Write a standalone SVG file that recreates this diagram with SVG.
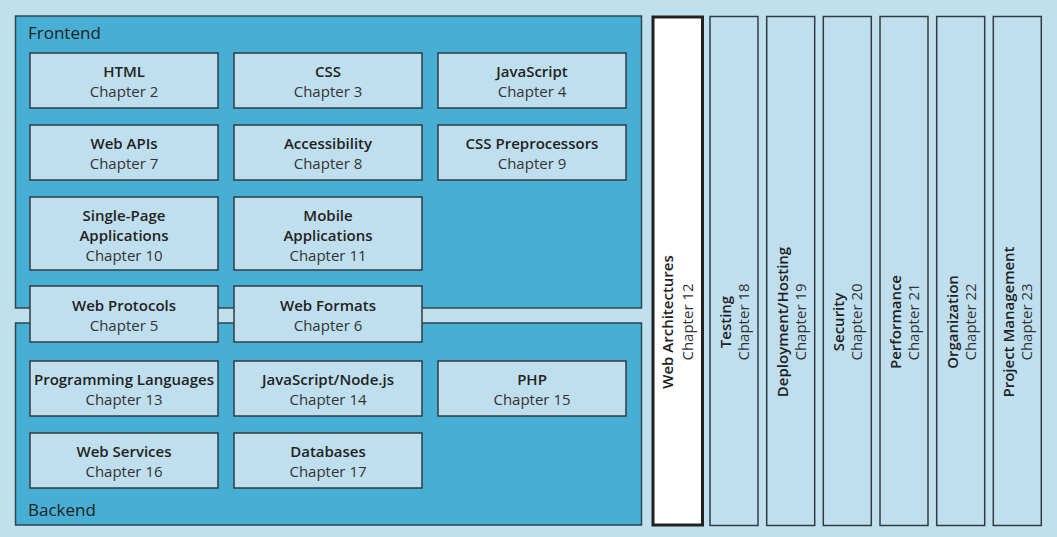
<svg xmlns="http://www.w3.org/2000/svg" width="1057" height="537" viewBox="0 0 1057 537">
<style>
.panel{fill:#47aed4;stroke:#2f4550;stroke-width:1.5}
.box{fill:#bfdfef;stroke:#333b40;stroke-width:1.5}
.col{fill:#bfdfef;stroke:#333b40;stroke-width:1.5}
.t{font-family:"Open Sans","Noto Sans",sans-serif;font-size:15px;font-weight:600;fill:#222;text-anchor:middle}
.c{font-family:"Open Sans","Noto Sans",sans-serif;font-size:15px;fill:#333;text-anchor:middle}
.h{font-family:"Open Sans","Noto Sans",sans-serif;font-size:17px;fill:#222}
</style>
<rect x="0" y="0" width="1057" height="537" fill="#c0e0ee"/>
<g id="frontend"><rect class="panel" x="15.5" y="16" width="626" height="292"/><text class="h" x="28" y="39">Frontend</text></g>
<g id="backend"><rect class="panel" x="15.5" y="323" width="626" height="202"/><text class="h" x="28" y="516">Backend</text></g>
<g id="connectors"></g>
<g id="html"><rect class="box" x="30" y="53" width="188" height="55"/><text class="t" x="124" y="77">HTML</text><text class="c" x="124" y="97">Chapter 2</text></g>
<g id="css"><rect class="box" x="234" y="53" width="188" height="55"/><text class="t" x="328" y="77">CSS</text><text class="c" x="328" y="97">Chapter 3</text></g>
<g id="javascript"><rect class="box" x="438" y="53" width="188" height="55"/><text class="t" x="532" y="77">JavaScript</text><text class="c" x="532" y="97">Chapter 4</text></g>
<g id="webapis"><rect class="box" x="30" y="125" width="188" height="55"/><text class="t" x="124" y="149">Web APIs</text><text class="c" x="124" y="169">Chapter 7</text></g>
<g id="accessibility"><rect class="box" x="234" y="125" width="188" height="55"/><text class="t" x="328" y="149">Accessibility</text><text class="c" x="328" y="169">Chapter 8</text></g>
<g id="csspre"><rect class="box" x="438" y="125" width="188" height="55"/><text class="t" x="532" y="149">CSS Preprocessors</text><text class="c" x="532" y="169">Chapter 9</text></g>
<g id="spa"><rect class="box" x="30" y="197" width="188" height="73"/><text class="t" x="124" y="221">Single-Page</text><text class="t" x="124" y="241">Applications</text><text class="c" x="124" y="261">Chapter 10</text></g>
<g id="mobile"><rect class="box" x="234" y="197" width="188" height="73"/><text class="t" x="328" y="221">Mobile</text><text class="t" x="328" y="241">Applications</text><text class="c" x="328" y="261">Chapter 11</text></g>
<g id="webprotocols"><rect class="box" x="30" y="286" width="188" height="56"/><text class="t" x="124" y="311">Web Protocols</text><text class="c" x="124" y="331">Chapter 5</text></g>
<g id="webformats"><rect class="box" x="234" y="286" width="188" height="56"/><text class="t" x="328" y="311">Web Formats</text><text class="c" x="328" y="331">Chapter 6</text></g>
<g id="proglang"><rect class="box" x="30" y="361" width="188" height="55"/><text class="t" x="124" y="385">Programming Languages</text><text class="c" x="124" y="405">Chapter 13</text></g>
<g id="nodejs"><rect class="box" x="234" y="361" width="188" height="55"/><text class="t" x="328" y="385">JavaScript/Node.js</text><text class="c" x="328" y="405">Chapter 14</text></g>
<g id="php"><rect class="box" x="438" y="361" width="188" height="55"/><text class="t" x="532" y="385">PHP</text><text class="c" x="532" y="405">Chapter 15</text></g>
<g id="webservices"><rect class="box" x="30" y="433" width="188" height="55"/><text class="t" x="124" y="457">Web Services</text><text class="c" x="124" y="477">Chapter 16</text></g>
<g id="databases"><rect class="box" x="234" y="433" width="188" height="55"/><text class="t" x="328" y="457">Databases</text><text class="c" x="328" y="477">Chapter 17</text></g>
<g id="webarch"><rect x="653" y="17" width="49.5" height="508" fill="#fff" stroke="#222" stroke-width="3"/><text class="t" transform="translate(673,322) rotate(-90)">Web Architectures</text><text class="c" transform="translate(693,322) rotate(-90)">Chapter 12</text></g>
<g id="testing"><rect class="col" x="710" y="16.5" width="48" height="509"/><text class="t" transform="translate(731,322) rotate(-90)">Testing</text><text class="c" transform="translate(749,322) rotate(-90)">Chapter 18</text></g>
<g id="deployment"><rect class="col" x="766.7" y="16.5" width="48" height="509"/><text class="t" transform="translate(787.7,322) rotate(-90)">Deployment/Hosting</text><text class="c" transform="translate(805.7,322) rotate(-90)">Chapter 19</text></g>
<g id="security"><rect class="col" x="823.3" y="16.5" width="48" height="509"/><text class="t" transform="translate(844.3,322) rotate(-90)">Security</text><text class="c" transform="translate(862.3,322) rotate(-90)">Chapter 20</text></g>
<g id="performance"><rect class="col" x="880" y="16.5" width="48" height="509"/><text class="t" transform="translate(901,322) rotate(-90)">Performance</text><text class="c" transform="translate(919,322) rotate(-90)">Chapter 21</text></g>
<g id="organization"><rect class="col" x="936.7" y="16.5" width="48" height="509"/><text class="t" transform="translate(957.7,322) rotate(-90)">Organization</text><text class="c" transform="translate(975.7,322) rotate(-90)">Chapter 22</text></g>
<g id="projectmgmt"><rect class="col" x="993.3" y="16.5" width="48" height="509"/><text class="t" transform="translate(1014.3,322) rotate(-90)">Project Management</text><text class="c" transform="translate(1032.3,322) rotate(-90)">Chapter 23</text></g>
</svg>
